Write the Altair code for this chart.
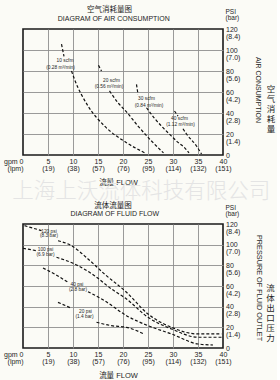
import altair as alt
import pandas as pd

# ---------------- axis tick values / labels ----------------
gpm_ticks = [0, 5, 10, 15, 20, 25, 30, 35, 40]
lpm_labels = ["(lpm)", "(19)", "(38)", "(57)", "(76)", "(95)", "(114)", "(132)", "(151)"]
psi_ticks = [0, 20, 40, 60, 80, 100, 120]
bar_labels = ["", "(1.4)", "(2.8)", "(4.2)", "(5.6)", "(7.0)", "(8.4)"]

# ---------------- air consumption curves (gpm, psi, segment) ----------------
air10_gpm = [7.7, 8.2, 9.7, 10.3, 13.0, 16.3, 20.7, 24.3]
air10_psi = [105.5, 94.0, 80.0, 72.1, 46.7, 27.6, 11.7, 2.2]
air10_seg = [0, 0, 1, 1, 1, 1, 1, 1]

air20_gpm = [15.1, 15.7, 17.3, 19.0, 20.7, 23.0, 25.7, 28.1]
air20_psi = [85.4, 80.0, 61.0, 49.8, 41.0, 27.6, 13.3, 2.0]
air20_seg = [0, 0, 1, 1, 1, 1, 1, 1]

air30_gpm = [22.7, 23.0, 24.7, 26.3, 28.0, 29.7, 31.0, 32.3, 33.2]
air30_psi = [67.3, 57.8, 45.0, 35.0, 26.0, 18.0, 12.0, 7.0, 2.0]
air30_seg = [0, 0, 1, 1, 1, 1, 1, 1, 1]

air40_gpm = [30.3, 31.0, 32.0, 32.7, 34.7, 35.7]
air40_psi = [41.9, 37.1, 25.0, 20.0, 8.6, 1.0]
air40_seg = [0, 0, 1, 1, 1, 1]

air_label_text = ["10 scfm", "(0.28 m³/min)", "20 scfm", "(0.56 m³/min)",
                  "30 scfm", "(0.84 m³/min)", "40 scfm", "(1.12 m³/min)"]
air_label_gpm = [8.4, 7.5, 17.7, 17.2, 24.7, 25.2, 31.3, 31.5]
air_label_psi = [89.5, 82.9, 70.5, 65.2, 53.0, 46.7, 34.0, 28.6]

# ---------------- fluid flow curves (gpm, psi, segment) ----------------
f120_gpm = [0.3, 3.7, 7.0, 9.7, 13.0, 16.3, 20.7, 25.0, 29.7, 35.0, 39.7]
f120_psi = [118.4, 113.6, 103.8, 99.0, 86.2, 71.6, 53.9, 32.9, 20.0, 13.6, 13.6]
f120_seg = [0, 0, 1, 1, 1, 1, 1, 1, 1, 1, 1]

f100_gpm = [0.0, 2.7, 6.7, 10.3, 14.3, 17.7, 20.7, 25.0, 29.7, 35.0, 39.7]
f100_psi = [96.5, 94.2, 87.8, 81.3, 70.0, 57.1, 47.4, 29.7, 18.4, 10.4, 10.4]
f100_seg = [0, 0, 1, 1, 1, 1, 1, 1, 1, 1, 1]

f40_gpm = [4.0, 6.3, 9.0, 13.0, 16.3, 20.7, 25.0, 29.7, 35.0, 38.0]
f40_psi = [77.4, 71.6, 63.6, 54.5, 45.8, 31.3, 21.6, 13.6, 3.9, 2.9]
f40_seg = [0, 0, 0, 1, 1, 1, 1, 1, 1, 1]

f20_gpm = [7.0, 9.7, 14.7, 17.7, 20.7, 24.3]
f20_psi = [44.2, 38.4, 24.9, 21.6, 20.0, 13.3]
f20_seg = [0, 0, 1, 1, 1, 1]

fluid_label_text = ["120 psi", "(8.3 bar)", "100 psi", "(6.9 bar)",
                    "40 psi", "(2.8 bar)", "20 psi", "(1.4 bar)"]
fluid_label_gpm = [5.2, 5.2, 4.5, 4.5, 10.8, 11.0, 12.5, 12.3]
fluid_label_psi = [112.6, 108.1, 95.2, 90.3, 61.0, 56.1, 34.6, 29.7]

FONT = "Liberation Sans, Arial, 'Noto Sans CJK SC'"
INK = "#1e1e1e"
W = 200


def curves(names, gpms, psis, segs):
    rows = []
    for n, g, p, s in zip(names, gpms, psis, segs):
        for gi, pi, si in zip(g, p, s):
            rows.append({"curve": n, "gpm": gi, "psi": pi, "key": f"{n}-{si}"})
    return pd.DataFrame(rows)


air_df = curves(["10", "20", "30", "40"],
                [air10_gpm, air20_gpm, air30_gpm, air40_gpm],
                [air10_psi, air20_psi, air30_psi, air40_psi],
                [air10_seg, air20_seg, air30_seg, air40_seg])
fluid_df = curves(["120", "100", "40", "20"],
                  [f120_gpm, f100_gpm, f40_gpm, f20_gpm],
                  [f120_psi, f100_psi, f40_psi, f20_psi],
                  [f120_seg, f100_seg, f40_seg, f20_seg])
air_lab = pd.DataFrame({"t": air_label_text, "gpm": air_label_gpm, "psi": air_label_psi})
fluid_lab = pd.DataFrame({"t": fluid_label_text, "gpm": fluid_label_gpm, "psi": fluid_label_psi})

lpm_js = "[" + ",".join("'" + s + "'" for s in lpm_labels) + "]"
bar_js = "[" + ",".join("'" + s + "'" for s in bar_labels) + "]"

one = pd.DataFrame({"a": [0]})


def txt(text, x, y, size, align="center", angle=0, color=INK, weight="normal",
        lineHeight=None, font=FONT):
    kw = dict(text=text, fontSize=size, align=align, baseline="middle", color=color,
              font=font, fontWeight=weight)
    if angle:
        kw["angle"] = angle
    if lineHeight:
        kw["lineHeight"] = lineHeight
        kw["lineBreak"] = "\n"
    return alt.Chart(one).mark_text(**kw).encode(x=alt.value(x), y=alt.value(y))


def panel(df, lab, height, headers):
    xaxis = alt.Axis(
        orient="bottom", values=gpm_ticks, tickCount=len(gpm_ticks),
        labelExpr="[datum.value == 0 ? 'gpm 0' : datum.label, " + lpm_js + "[round(datum.value/5)]]",
        labelAlign={"condition": {"test": "datum.value == 0", "value": "right"}, "value": "center"},
        labelBaseline="top", labelPadding=2, labelLineHeight=7.5, labelFontSize=7,
        labelFont=FONT, labelColor=INK, labelFlush=False, labelOverlap=False,
        ticks=False, domain=False,
        grid=True, gridColor="#8f8f8f", gridWidth=0.9,
        gridOpacity={"condition": {"test": "datum.value == 0 || datum.value == 40", "value": 0}, "value": 1},
        title="流量 FLOW", titleFont=FONT, titleFontSize=7.5, titleFontWeight="normal",
        titleColor=INK, titleX=95, titleY=27, titleAlign="center", titleBaseline="middle",
    )
    yaxis = alt.Axis(
        orient="right", values=psi_ticks, tickCount=len(psi_ticks),
        labelExpr="datum.value == 0 ? '0' : [datum.label, " + bar_js + "[round(datum.value/20)]]",
        labelAlign="left", labelBaseline="middle", labelPadding=2.5, labelLineHeight=7,
        labelFontSize=7, labelFont=FONT, labelColor=INK, labelFlush=False, labelOverlap=False,
        ticks=False, domain=False,
        grid=True, gridColor="#8f8f8f", gridWidth=0.9,
        gridOpacity={"condition": {"test": "datum.value == 0 || datum.value == 120", "value": 0}, "value": 1},
        title=None,
    )
    lines = alt.Chart(df).mark_line(
        strokeDash=[3, 2], color="#111111", strokeWidth=1.2, interpolate="monotone"
    ).encode(
        x=alt.X("gpm:Q", scale=alt.Scale(domain=[0, 40], nice=False, zero=False), axis=xaxis),
        y=alt.Y("psi:Q", scale=alt.Scale(domain=[0, 120], nice=False), axis=yaxis),
        detail="key:N",
    )
    labels = alt.Chart(lab).mark_text(fontSize=4.8, font=FONT, color=INK, baseline="middle").encode(
        x="gpm:Q", y="psi:Q", text="t:N"
    )
    return alt.layer(*headers, lines, labels).properties(width=W, height=height)


top_headers = [
    txt("上海上沃流体科技有限公司", 118.3, 163, 21.5, color="#e4e4e4", weight=300,
        font="'Noto Sans CJK SC'"),
    txt("空气消耗量图", 86.5, -19, 7.5),
    txt("DIAGRAM OF AIR CONSUMPTION", 90.8, -9.7, 7),
    txt("PSI", 202.5, -17.5, 6.5, align="left"),
    txt("(bar)", 202.5, -11, 6.5, align="left"),
    txt("AIR CONSUMPTION", 235, 61, 7, angle=90),
    txt("空\n气\n消\n耗\n量", 248, 60, 8.5, lineHeight=10),
]
bottom_headers = [
    txt("流体流量图", 90, -18, 7.5),
    txt("DIAGRAM OF FLUID FLOW", 91.8, -9.7, 7),
    txt("PSI", 202.5, -16.3, 6.5, align="left"),
    txt("(bar)", 202.5, -10, 6.5, align="left"),
    txt("PRESSURE OF FLUID OUTLET", 236, 64, 7.3, angle=90),
    txt("流\n体\n出\n口\n压\n力", 247.5, 64, 8.5, lineHeight=10),
]

top = panel(air_df, air_lab, 126, top_headers)
bottom = panel(fluid_df, fluid_lab, 124, bottom_headers)

chart = alt.vconcat(top, bottom, spacing=69, bounds="flush").configure_view(
    stroke="#1a1a1a", strokeWidth=1.6
).properties(
    background="#fbfbf6",
    padding={"left": 2, "top": 5, "right": 0, "bottom": 0},
)

chart.save("out.html", embed_options={"renderer": "svg", "actions": False})
